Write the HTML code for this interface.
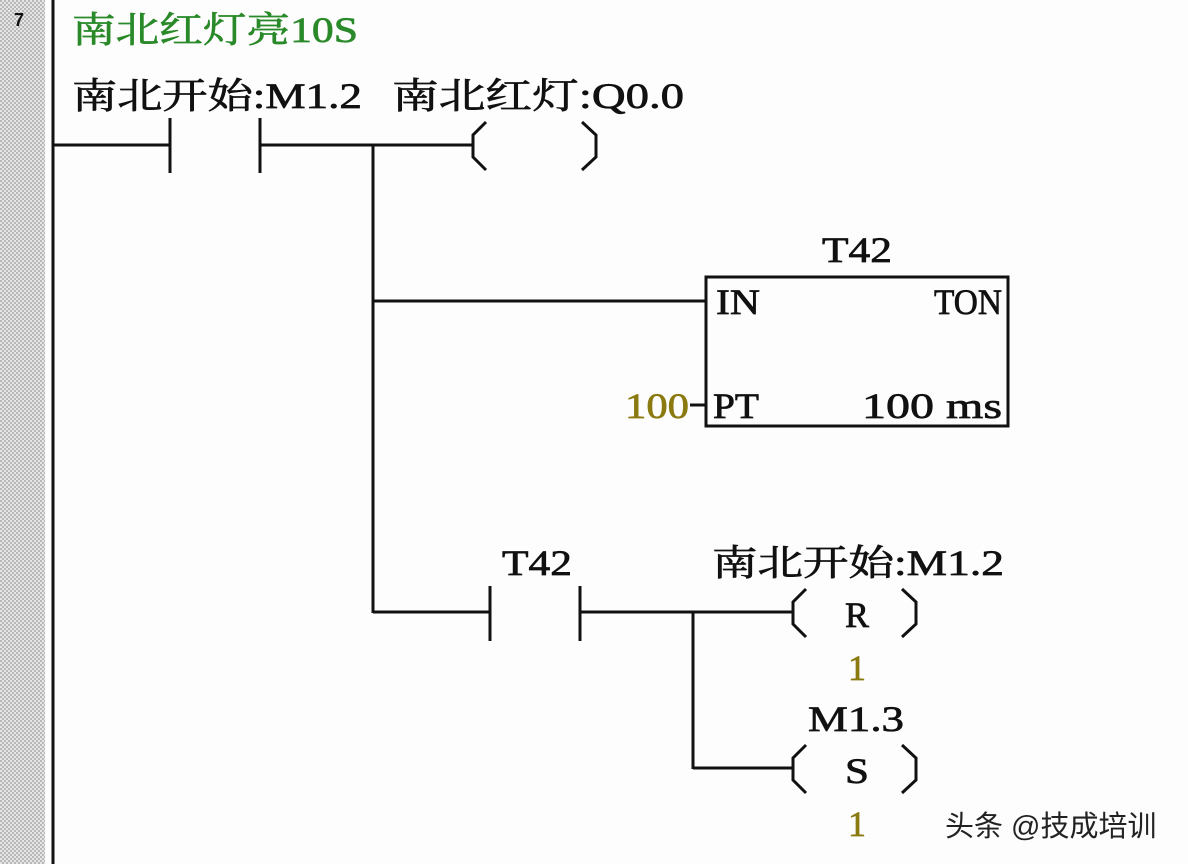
<!DOCTYPE html>
<html><head><meta charset="utf-8"><style>
html,body{margin:0;padding:0;background:#fff;width:1188px;height:864px;overflow:hidden}
text{font-family:"Liberation Serif","Noto Serif CJK SC",serif;font-size:36px;fill:#111;stroke:#111;stroke-width:0.7}
</style></head><body>
<svg width="1188" height="864" xmlns="http://www.w3.org/2000/svg">
<defs><pattern id="h" width="4" height="4" patternUnits="userSpaceOnUse"><rect width="4" height="4" fill="#e6e6e6"/><rect width="2" height="2" fill="#b8b8b8"/><rect x="2" y="2" width="2" height="2" fill="#b8b8b8"/></pattern></defs>
<rect x="0" y="0" width="1188" height="864" fill="#fdfdfd"/>
<rect x="0" y="0" width="45" height="864" fill="url(#h)"/>
<text x="14" y="26" style="font-family:'Liberation Sans',sans-serif;font-size:18px;font-weight:bold;stroke:none">7</text>
<g stroke="#111" stroke-width="3" fill="none">
<line x1="53" y1="0" x2="53" y2="864"/>
<line x1="53" y1="145" x2="170" y2="145"/>
<line x1="170" y1="118" x2="170" y2="173"/>
<line x1="260" y1="118" x2="260" y2="173"/>
<line x1="260" y1="145" x2="473" y2="145"/>
<polyline points="486,122 473,135 473,157 486,170"/>
<polyline points="582,122 596,135 596,157 582,170"/>
<line x1="373" y1="145" x2="373" y2="613"/>
<line x1="373" y1="301" x2="706" y2="301"/>
<rect x="706" y="277" width="302" height="149"/>
<line x1="690" y1="405" x2="706" y2="405"/>
<line x1="373" y1="612" x2="490" y2="612"/>
<line x1="490" y1="586" x2="490" y2="641"/>
<line x1="580" y1="586" x2="580" y2="641"/>
<line x1="580" y1="612" x2="793" y2="612"/>
<line x1="693" y1="612" x2="693" y2="769"/>
<line x1="693" y1="768" x2="793" y2="768"/>
<polyline points="806,589 793,602 793,624 806,637"/>
<polyline points="902,589 916,602 916,624 902,637"/>
<polyline points="806,745 793,758 793,780 806,793"/>
<polyline points="902,745 916,758 916,780 902,793"/>
</g>
<text x="72" y="42" textLength="286" lengthAdjust="spacingAndGlyphs" style="fill:#2a8a2a;stroke:#2a8a2a">南北红灯亮10S</text>
<text x="72" y="108" textLength="290" lengthAdjust="spacingAndGlyphs">南北开始:M1.2</text>
<text x="392" y="108" textLength="292" lengthAdjust="spacingAndGlyphs">南北红灯:Q0.0</text>
<text x="822" y="262" textLength="70" lengthAdjust="spacingAndGlyphs">T42</text>
<text x="716" y="314" textLength="44" lengthAdjust="spacingAndGlyphs">IN</text>
<text x="934" y="314" textLength="68" lengthAdjust="spacingAndGlyphs">TON</text>
<text x="713" y="418" textLength="46" lengthAdjust="spacingAndGlyphs">PT</text>
<text x="862" y="418" textLength="140" lengthAdjust="spacingAndGlyphs">100 ms</text>
<text x="625" y="418" style="fill:#8a7a10;stroke:#8a7a10" textLength="64" lengthAdjust="spacingAndGlyphs">100</text>
<text x="502" y="575" textLength="70" lengthAdjust="spacingAndGlyphs">T42</text>
<text x="712" y="575" textLength="292" lengthAdjust="spacingAndGlyphs">南北开始:M1.2</text>
<text x="845" y="627" textLength="24" lengthAdjust="spacingAndGlyphs">R</text>
<text x="848" y="680" style="fill:#8a7a10;stroke:#8a7a10">1</text>
<text x="808" y="731" textLength="96" lengthAdjust="spacingAndGlyphs">M1.3</text>
<text x="845" y="783" textLength="24" lengthAdjust="spacingAndGlyphs">S</text>
<text x="848" y="836" style="fill:#8a7a10;stroke:#8a7a10">1</text>
<text x="945" y="836" style="font-family:'Liberation Sans','Noto Sans CJK SC',sans-serif;font-size:29px;fill:#222;stroke:none">头条 @技成培训</text>
</svg>
</body></html>
